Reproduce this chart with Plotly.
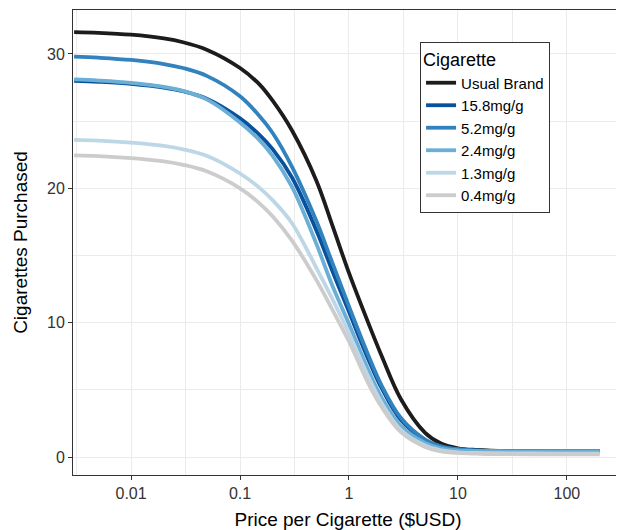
import plotly.graph_objects as go

# Price grid (USD per cigarette)
price = [0.003, 0.005, 0.01, 0.02, 0.03, 0.05, 0.1, 0.15, 0.2, 0.3, 0.5, 0.7, 1, 1.5, 2, 3, 5, 7,
         10, 15, 20, 30, 50, 100, 200]

usual_brand = [31.62, 31.57, 31.43, 31.15, 30.87, 30.3, 28.95, 27.75, 26.5, 24.3, 20.6, 17.3, 13.7,
               10.0, 7.5, 4.3, 1.8, 1.0, 0.65, 0.52, 0.47, 0.44, 0.43, 0.42, 0.42]
mg15_8 = [28.0, 27.93, 27.78, 27.5, 27.22, 26.65, 25.2, 24.0, 22.9, 20.8, 16.9, 13.9, 10.8,
          7.3, 5.1, 2.75, 1.25, 0.78, 0.57, 0.48, 0.45, 0.43, 0.42, 0.42, 0.42]
mg5_2 = [29.8, 29.72, 29.55, 29.25, 28.95, 28.35, 26.85, 25.4, 24.1, 21.6, 17.6, 14.5, 11.2,
         7.6, 5.3, 2.9, 1.3, 0.8, 0.58, 0.49, 0.46, 0.44, 0.43, 0.42, 0.42]
mg2_4 = [28.1, 28.02, 27.85, 27.55, 27.25, 26.6, 24.9, 23.6, 22.4, 20.1, 15.9, 12.8, 9.9,
         6.5, 4.4, 2.3, 1.05, 0.65, 0.5, 0.45, 0.43, 0.42, 0.42, 0.42, 0.42]
mg1_3 = [23.6, 23.55, 23.4, 23.15, 22.9, 22.4, 21.1, 20.05, 19.1, 17.4, 14.1, 11.8, 9.2,
         6.0, 4.0, 2.0, 0.85, 0.5, 0.35, 0.3, 0.28, 0.27, 0.26, 0.25, 0.25]
mg0_4 = [22.45, 22.4, 22.25, 22.0, 21.75, 21.25, 20.0, 18.9, 17.9, 16.1, 13.2, 11.0, 8.6,
         5.5, 3.7, 1.85, 0.75, 0.42, 0.3, 0.25, 0.22, 0.21, 0.2, 0.2, 0.2]

series_names = ["Usual Brand", "15.8mg/g", "5.2mg/g", "2.4mg/g", "1.3mg/g", "0.4mg/g"]
series_values = [usual_brand, mg15_8, mg5_2, mg2_4, mg1_3, mg0_4]
series_colors = ["#1c1c1c", "#08519c", "#3182bd", "#6baed6", "#bdd7e7", "#cccccc"]

x_tickvals = [0.01, 0.1, 1, 10, 100]
x_ticktext = ["0.01", "0.1", "1", "10", "100"]
x_minor = [0.00316, 0.0316, 0.316, 3.16, 31.6, 316]
y_tickvals = [0, 10, 20, 30]
y_minor = [5, 15, 25]

FONT = "Liberation Sans, Arial, Helvetica, sans-serif"

fig = go.Figure()
for name, vals, col in zip(series_names, series_values, series_colors):
    fig.add_trace(go.Scatter(
        x=price, y=vals, mode="lines", name=name,
        line=dict(color=col, width=3.8, shape="spline", smoothing=1.0),
    ))

grid = "#ebebeb"
fig.update_layout(
    width=616, height=522,
    margin=dict(l=65, r=1, t=2, b=55),
    paper_bgcolor="white", plot_bgcolor="white",
    font=dict(family=FONT, color="#333333", size=16),
    legend=dict(
        x=0.631, y=0.931, xanchor="left", yanchor="top",
        bordercolor="#333333", borderwidth=1, bgcolor="white",
        title=dict(text="Cigarette", font=dict(size=18, color="#000000")),
        font=dict(size=15, color="#000000"),
        tracegroupgap=0,
    ),
    xaxis=dict(
        type="log", range=[-2.533, 2.515],
        tickvals=x_tickvals, ticktext=x_ticktext,
        showgrid=True, gridcolor=grid, gridwidth=1,
        minor=dict(tickvals=x_minor, showgrid=True, gridcolor=grid, gridwidth=1, ticklen=0),
        ticks="outside", ticklen=4, tickcolor="#333333",
        showline=True, linecolor="#333333", linewidth=1, mirror=True,
        zeroline=False,
        tickfont=dict(size=16, color="#333333"),
        title=dict(text="Price per Cigarette ($USD)", font=dict(size=19, color="#000000"), standoff=14),
    ),
    yaxis=dict(
        range=[-1.34, 33.27],
        tickvals=y_tickvals,
        showgrid=True, gridcolor=grid, gridwidth=1,
        minor=dict(tickvals=y_minor, showgrid=True, gridcolor=grid, gridwidth=1, ticklen=0),
        ticks="outside", ticklen=4, tickcolor="#333333",
        showline=True, linecolor="#333333", linewidth=1, mirror=True,
        zeroline=False,
        tickfont=dict(size=16, color="#333333"),
        title=dict(text="Cigarettes Purchased", font=dict(size=19, color="#000000"), standoff=14),
    ),
)

fig.write_html("out.html")
